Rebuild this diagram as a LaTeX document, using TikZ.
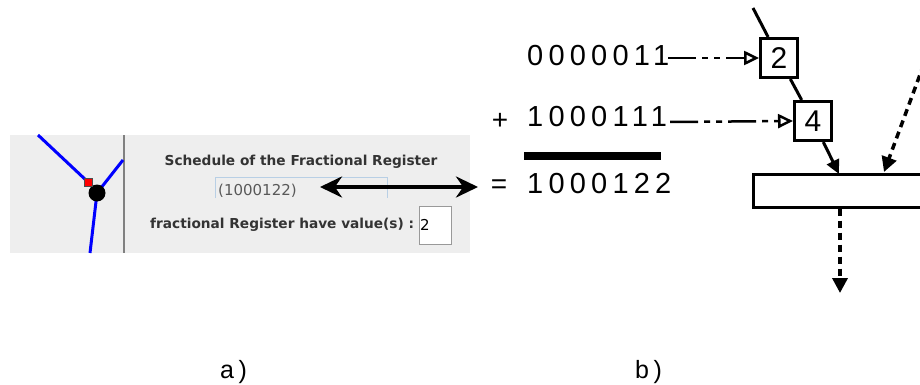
\documentclass[tikz,border=0pt]{standalone}
\usepackage{fontspec}
\setmainfont{Liberation Sans}
\newfontfamily\digitfont[LetterSpace=18]{Liberation Sans}
\newfontfamily\guifont{DejaVu Sans}
\usetikzlibrary{arrows.meta, positioning}
\definecolor{guigray}{HTML}{EEEEEE}
\definecolor{guitext}{HTML}{333333}
\definecolor{fieldblue}{HTML}{B8CFE5}
\tikzstyle{arrow} = [line width=3pt,-{Triangle[length=14pt,width=13pt]}]
\tikzstyle{dotarrow} = [line width=3.5pt,dash pattern=on 7pt off 5pt,-{Triangle[length=15pt,width=15pt]}]
\tikzstyle{feed} = [line width=2.5pt,dash pattern=on 28pt off 6pt on 6pt off 6pt on 6pt off 6pt,-{Triangle[open,length=15pt,width=14pt,line width=2.5pt]}]
\tikzstyle{digitbox} = [rectangle, draw=black, line width=3pt, minimum width=37pt, minimum height=39pt, inner sep=0pt, font=\fontsize{30}{30}\selectfont]
\tikzstyle{digits} = [inner sep=0pt, anchor=base west, font=\digitfont\fontsize{29}{30}\selectfont]
\tikzstyle{guibold} = [inner sep=0pt, text=guitext, font=\guifont\bfseries\fontsize{13.7}{15}\selectfont]
\tikzstyle{wire} = [line width=3pt, draw=blue]

\begin{document}
\begin{tikzpicture}[x=1pt, y=-1pt]
\clip (0,0) rectangle (920,385);

% a) screenshot
\fill[guigray] (10,135) rectangle (470,253);
\draw[line width=1.5pt, gray] (124,135) -- (124,253);
\coordinate (junction) at (97,193);
\draw[wire] (38,135) -- (88,182);
\draw[wire] (123,160) -- (junction);
\draw[wire] (junction) -- (90,253);
\fill[black] (junction) circle (8.5);
\node (port) [rectangle, draw=black!70, fill=red, minimum size=8pt, inner sep=0pt] at (88,182) {};

\node (title) [guibold] at (301,162) {Schedule of the Fractional Register};
\node (field) [inner sep=0pt, anchor=base west, text=black!65, font=\guifont\fontsize{15}{16}\selectfont] at (218,195) {(1000122)};
\draw[fieldblue, line width=1pt] (215,198) -- (215,177) -- (387,177) -- (387,198);
\node (count) [guibold, anchor=west] at (150,225) {fractional Register have value(s) :};
\node (value) [rectangle, draw=black!40, fill=white, minimum width=32pt, minimum height=38pt, inner sep=1pt, text width=30pt, align=left, font=\guifont\fontsize{15}{16}\selectfont] at (435,225) {2};

% b) addition
\node (opA) [digits] at (527,66) {0000011};
\node (plus) [font=\fontsize{28}{28}\selectfont, inner sep=0pt] at (500,121) {+};
\node (opB) [digits] at (527,127) {1000111};
\draw[line width=8pt] (524,156) -- (661,156);
\node (eq) [font=\fontsize{28}{28}\selectfont, inner sep=0pt] at (499,187) {=};
\node (sum) [digits] at (527,193) {1000122};

% link between a) and b)
\coordinate (linkL) at (320,187);
\coordinate (linkR) at (478,187);
\draw[line width=4.5pt, {Stealth[length=22pt,width=21pt]}-{Stealth[length=22pt,width=21pt]}] (linkL) -- (linkR);

% b) register chain
\node (box2) [digitbox] at (779,58) {2};
\node (box4) [digitbox] at (813,121) {4};
\node (reg) [rectangle, draw=black, line width=3pt, minimum width=187pt, minimum height=33pt] at (846.5,190.5) {};
\coordinate (chainTop) at (753,8);
\coordinate (inA) at (839,174);
\coordinate (inB) at (884,172);
\coordinate (srcR) at (928,53);
\coordinate (outA) at (840,293);

\draw[line width=3pt] (chainTop) -- (box2);
\draw[line width=3pt] (box2) -- (box4);
\draw[arrow] (box4) -- (inA);
\draw[dotarrow] (srcR) -- (inB);
\draw[dotarrow] (reg.south -| outA) -- (outA);

\draw[feed] (668,58) -- (box2.west);
\draw[feed] (670,122) -- (box4.west);

% captions
\node (capA) [inner sep=0pt, anchor=base west, font=\digitfont\fontsize{25}{26}\selectfont] at (220,378) {a)};
\node (capB) [inner sep=0pt, anchor=base west, font=\digitfont\fontsize{25}{26}\selectfont] at (635,378) {b)};
\end{tikzpicture}
\end{document}
